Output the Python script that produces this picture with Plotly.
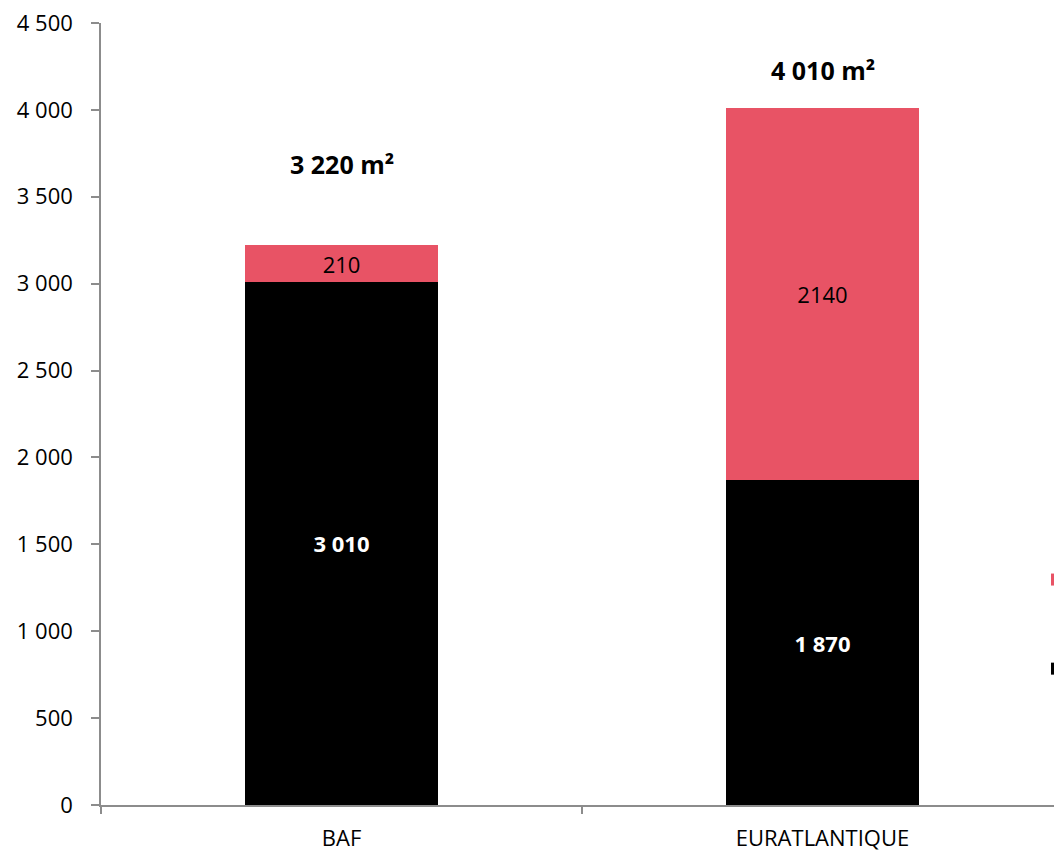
import plotly.graph_objects as go

categories = ["BAF", "EURATLANTIQUE"]
black_vals = [3010, 1870]
red_vals = [210, 2140]
black_labels = ["3 010", "1 870"]
red_labels = ["210", "2140"]
total_labels = ["3 220 m²", "4 010 m²"]
total_label_y = [3690, 4230]
series_names = ["Surface existante", "Surface nouvelle"]
tick_vals = [0, 500, 1000, 1500, 2000, 2500, 3000, 3500, 4000, 4500]
tick_text = ["0", "500", "1 000", "1 500", "2 000", "2 500", "3 000", "3 500", "4 000", "4 500"]

RED = "#E85365"
FONT = "'Open Sans', sans-serif"
W, H = 1120, 851

fig = go.Figure()
fig.add_trace(go.Bar(
    x=categories, y=black_vals, name=series_names[0],
    marker=dict(color="#000000", line=dict(width=0)),
    text=black_labels, textposition="inside", insidetextanchor="middle",
    textfont=dict(color="white", size=22, family=FONT, weight="bold"),
    legendgroup="a", legendrank=2,
))
fig.add_trace(go.Bar(
    x=categories, y=red_vals, name=series_names[1],
    marker=dict(color=RED, line=dict(width=0)),
    text=red_labels, textposition="inside", insidetextanchor="middle",
    textfont=dict(color="black", size=22, family=FONT),
    legendgroup="b", legendrank=1,
))

for c, t, yv in zip(categories, total_labels, total_label_y):
    fig.add_annotation(x=c, y=yv, text="<b>" + t + "</b>", showarrow=False,
                       font=dict(size=25, color="black", family=FONT))

fig.update_layout(
    barmode="stack",
    bargap=0.6,
    width=W, height=H,
    margin=dict(l=101, r=W - 1063, t=23, b=851 - 805, autoexpand=False),
    plot_bgcolor="white", paper_bgcolor="white",
    font=dict(family=FONT, size=22, color="black"),
    uniformtext=dict(mode=False),
    showlegend=True,
    legend=dict(xref="container", yref="container", x=1037 / W, y=1 - 562 / H,
                xanchor="left", yanchor="top", tracegroupgap=64,
                font=dict(size=17), bgcolor="rgba(0,0,0,0)"),
)
fig.update_xaxes(
    showline=True, linecolor="#8c8c8c", linewidth=1.5,
    ticks="outside", tickson="boundaries", ticklen=7, tickcolor="#8c8c8c", tickwidth=1.5,
    showgrid=False, ticklabelstandoff=13,
    tickfont=dict(size=22, family=FONT),
)
fig.update_yaxes(
    range=[0, 4500], tickvals=tick_vals, ticktext=tick_text,
    showline=True, linecolor="#8c8c8c", linewidth=1.5,
    ticks="outside", ticklen=8, tickcolor="#8c8c8c", tickwidth=1.5,
    showgrid=False, zeroline=False, ticklabelstandoff=14,
    tickfont=dict(size=22, family=FONT),
)

fig.write_html("out.html")
